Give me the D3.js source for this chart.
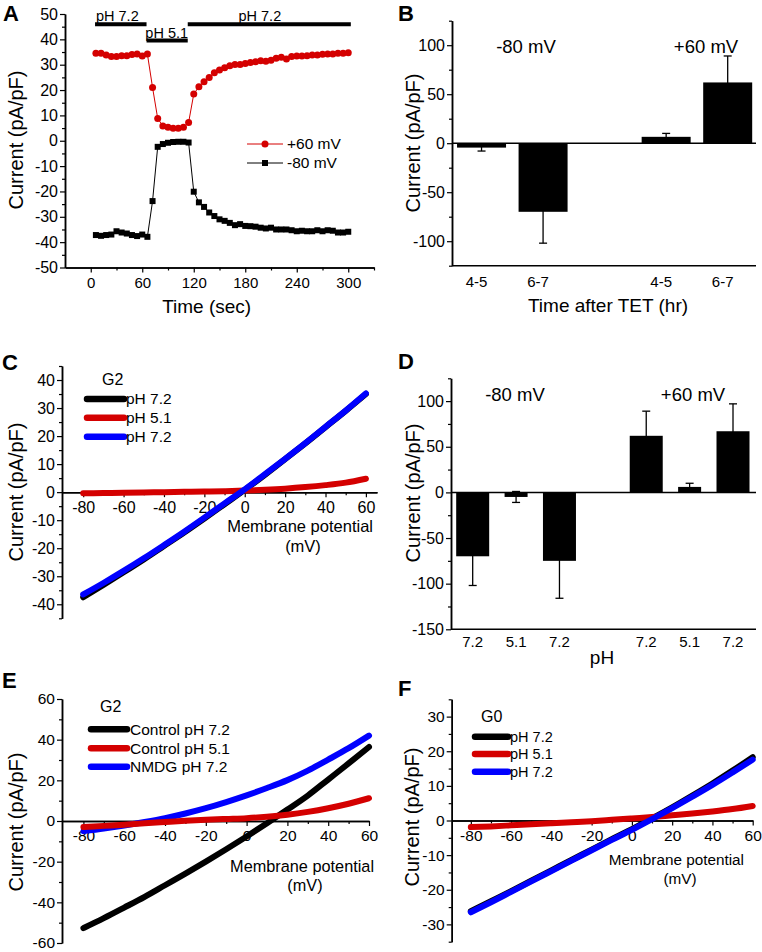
<!DOCTYPE html>
<html><head><meta charset="utf-8">
<script src="https://cdn.jsdelivr.net/npm/d3@7"></script>
<style>
body{margin:0;background:#fff;}
svg text{font-family:"Liberation Sans",Arial,sans-serif;fill:#000;}
</style></head>
<body>
<script>
// ---------------- DATA ----------------
// Panel A: time course
const timeSec = [6,12,18,24,30,36,42,48,54,60,66,72,78,84,90,96,102,108,114,120,126,132,138,144,150,156,162,168,174,180,186,192,198,204,210,216,222,228,234,240,246,252,258,264,270,276,282,288,294,300];
const plus60 = [34.5,34.5,33.8,33.2,33.2,33.5,33.5,34,34.2,33.4,34.2,21,8.8,5.8,5.3,4.9,4.9,5.3,7.2,18.4,21.3,23.3,25,26.8,27.9,28.8,29.6,30.1,30.1,30.5,30.9,31.2,31.6,31.4,31.8,32.5,32.9,32.2,33.2,33.4,33.4,33.5,33.8,33.8,34.1,34.2,34.2,34.5,34.5,34.7];
const minus80 = [-37.2,-37.5,-37.2,-37,-35.7,-36.2,-36.6,-37.2,-37.6,-37,-37.9,-23.8,-2.4,-1.3,-0.8,-0.5,-0.4,-0.4,-0.7,-20.1,-24.3,-26.1,-28.3,-29.7,-31,-31.6,-32.4,-33.3,-32.9,-33.6,-33.7,-33.9,-34.3,-34.6,-34.3,-35,-35,-35,-35.3,-35.7,-35.5,-35.7,-35.7,-35.3,-35.7,-35.3,-35.5,-36.2,-36.2,-35.9];
const phLabels = ["pH 7.2","pH 5.1","pH 7.2"];
const phStart = [5,65,113];
const phEnd = [65,113,303];
const phLevel = [46,39.5,46];
const phLabelAt = [31,88.5,197];
const aTicksX = [0,60,120,180,240,300];
const aTicksY = [-50,-40,-30,-20,-10,0,10,20,30,40,50];

// Panel B: bars
const bCats = ["4-5","6-7","4-5","6-7"];
const bPos = [1,2,4,5];
const bVals = [-4.5,-70,6.5,62];
const bErr = [3.5,32,3.5,27];
const bTicksY = [-100,-50,0,50,100];

// Panel C: I-V G2
const voltage = [-80,-70,-60,-50,-40,-30,-20,-10,0,10,20,30,40,50,60];
const cPh72a = [-37.5,-33.1,-28.6,-24,-19.2,-14.4,-9.4,-4.3,0.8,6.2,11.8,17.4,23.2,29,35];
const cPh51 = [-0.4,-0.3,-0.2,-0.1,0,0.1,0.2,0.35,0.55,0.85,1.25,1.8,2.5,3.4,4.8];
const cPh72b = [-36.5,-32.4,-28.1,-23.6,-18.9,-14.1,-9.1,-4,1,6.4,11.9,17.5,23.3,29.1,35.2];
const cTicksY = [-40,-30,-20,-10,0,10,20,30,40];

// Panel D: bars
const dCats = ["7.2","5.1","7.2","7.2","5.1","7.2"];
const dPos = [1,2,3,5,6,7];
const dVals = [-70,-5,-75,62,6,67];
const dErr = [32,6,41,27,4,30];
const dTicksY = [-150,-100,-50,0,50,100];

// Panel E: I-V G2 NMDG
const eCtrl72 = [-52.7,-47.8,-42.6,-37.3,-31.6,-25.9,-20,-13.9,-7.6,-1.1,5.6,12.5,20.4,28.3,36.4];
const eCtrl51 = [-3,-2.4,-1.8,-1.1,-0.5,0.1,0.6,1,1.4,2.1,3.1,4.5,6.3,8.5,11.2];
const eNmdg72 = [-5,-3.7,-2.2,-0.5,1.4,3.7,6.3,9.3,12.6,16.2,20.1,24.8,30.2,35.8,42];
const eTicksY = [-60,-40,-20,0,20,40,60];

// Panel F: I-V G0
const fPh72a = [-26.2,-23.3,-20.4,-17.4,-14.4,-11.4,-8.4,-5.4,-2.5,0.6,3.8,7.2,10.7,14.4,18.3];
const fPh51 = [-1.9,-1.7,-1.4,-1.1,-0.8,-0.5,-0.2,0.2,0.6,1.0,1.5,2.0,2.6,3.3,4.2];
const fPh72b = [-26.5,-23.6,-20.6,-17.6,-14.6,-11.6,-8.6,-5.6,-2.7,0.4,3.6,6.9,10.3,13.9,17.6];
const fTicksY = [-30,-20,-10,0,10,20,30];
const ivTicksX = [-80,-60,-40,-20,0,20,40,60];
const ivMinorX = [-70,-50,-30,-10,10,30,50];

// ---------------- DRAW ----------------
const RED = "#d40000", BLUE = "#0000ff", BLACK = "#000";
const fmt = d => String(d);
const svg = d3.select("body").append("svg").attr("width",762).attr("height",952);

function styleAxis(g, fs){
  g.select(".domain").attr("stroke","#000").attr("stroke-width",1.5);
  g.selectAll(".tick line").attr("stroke","#000").attr("stroke-width",1.2);
  g.selectAll(".tick text").attr("font-size",fs).attr("font-family","Liberation Sans, Arial, sans-serif");
}
function yAxis(x0, y, major, minorStep, fs){
  const d = y.domain();
  const minors = [];
  for(let v=Math.ceil(d[0]/minorStep)*minorStep; v<=d[1]+1e-9; v+=minorStep){ if(!major.some(m=>Math.abs(m-v)<1e-9)) minors.push(v); }
  const gm = svg.append("g").attr("transform",`translate(${x0},0)`)
    .call(d3.axisLeft(y).tickValues(minors).tickSize(3).tickFormat("").tickSizeOuter(0));
  styleAxis(gm, fs);
  const g = svg.append("g").attr("transform",`translate(${x0},0)`)
    .call(d3.axisLeft(y).tickValues(major).tickSize(5).tickPadding(2).tickFormat(fmt).tickSizeOuter(0));
  styleAxis(g, fs);
}
function xAxisAt(y0, x, major, minors, fs, pad){
  const gm = svg.append("g").attr("transform",`translate(0,${y0})`)
    .call(d3.axisBottom(x).tickValues(minors).tickSize(3).tickFormat("").tickSizeOuter(0));
  styleAxis(gm, fs);
  const g = svg.append("g").attr("transform",`translate(0,${y0})`)
    .call(d3.axisBottom(x).tickValues(major).tickSize(5).tickPadding(pad).tickFormat(fmt).tickSizeOuter(0));
  styleAxis(g, fs);
}
function text(x,y,s,fs,anchor,weight){
  return svg.append("text").attr("x",x).attr("y",y).attr("dy","0.35em").attr("font-size",fs)
    .attr("text-anchor",anchor||"start").attr("font-weight",weight||"normal").text(s);
}
function vtitle(cx,cy,s,fs){
  svg.append("text").attr("transform",`translate(${cx},${cy}) rotate(-90)`).attr("dy","0.35em")
    .attr("text-anchor","middle").attr("font-size",fs).text(s);
}
function panelLetter(x,y,s){
  svg.append("text").attr("x",x).attr("y",y).attr("font-size",22).attr("font-weight","bold").text(s);
}

// ===== Panel A =====
{
  const x = d3.scaleLinear().domain([-30,330]).range([65,374]);
  const y = d3.scaleLinear().domain([-50,50]).range([267.5,14]);
  yAxis(65, y, aTicksY, 5, 16);
  xAxisAt(267.5, x, aTicksX, [30,90,150,210,270,330], 15, 5);
  phLabels.forEach((lab,i)=>{
    svg.append("line").attr("x1",x(phStart[i])).attr("x2",x(phEnd[i]))
      .attr("y1",y(phLevel[i])).attr("y2",y(phLevel[i])).attr("stroke","#000").attr("stroke-width",4);
    text(x(phLabelAt[i]), y(phLevel[i])-8, lab, 14.5, "middle");
  });
  const line = d3.line().x((d,i)=>x(timeSec[i])).y(d=>y(d));
  svg.append("path").datum(plus60).attr("d",line).attr("fill","none").attr("stroke",RED).attr("stroke-width",1);
  svg.append("path").datum(minus80).attr("d",line).attr("fill","none").attr("stroke",BLACK).attr("stroke-width",1);
  svg.selectAll(null).data(plus60).enter().append("circle")
    .attr("cx",(d,i)=>x(timeSec[i])).attr("cy",d=>y(d)).attr("r",3.5).attr("fill",RED);
  svg.selectAll(null).data(minus80).enter().append("rect")
    .attr("x",(d,i)=>x(timeSec[i])-3).attr("y",d=>y(d)-3).attr("width",6).attr("height",6).attr("fill",BLACK);
  svg.append("line").attr("x1",247).attr("x2",283).attr("y1",144).attr("y2",144).attr("stroke",RED).attr("stroke-width",1);
  svg.append("circle").attr("cx",265).attr("cy",144).attr("r",3.5).attr("fill",RED);
  text(287,144,"+60 mV",15.5);
  svg.append("line").attr("x1",247).attr("x2",283).attr("y1",163).attr("y2",163).attr("stroke",BLACK).attr("stroke-width",1);
  svg.append("rect").attr("x",262).attr("y",160).attr("width",6).attr("height",6).attr("fill",BLACK);
  text(287,163,"-80 mV",15.5);
  vtitle(16,140,"Current (pA/pF)",20);
  text(206.7,306.5,"Time (sec)",19,"middle");
  panelLetter(3,21,"A");
}

// ===== bar panel helper =====
function barPanel(opts){
  const {x0,x1,yTop,yBot,dom,pos,xdom,vals,err,cats,ticks,minor,bw,fsT,lblY,lblDx,lab1,lab2,labY,title,titleY,titleX,vt,letter} = opts;
  const x = d3.scaleLinear().domain(xdom).range([x0,x1]);
  const y = d3.scaleLinear().domain(dom).range([yBot,yTop]);
  const w = i => Array.isArray(bw) ? bw[i] : bw;
  yAxis(x0, y, ticks, minor, fsT);
  svg.append("line").attr("x1",x0).attr("x2",x1).attr("y1",yBot).attr("y2",yBot).attr("stroke","#000").attr("stroke-width",1.5);
  vals.forEach((v,i)=>{
    const cx = x(pos[i]);
    svg.append("line").attr("x1",cx).attr("x2",cx).attr("y1",y(v-err[i])).attr("y2",y(v+err[i])).attr("stroke","#000").attr("stroke-width",1.3);
    [v-err[i], v+err[i]].forEach(e=>{
      svg.append("line").attr("x1",cx-4).attr("x2",cx+4).attr("y1",y(e)).attr("y2",y(e)).attr("stroke","#000").attr("stroke-width",1.3);
    });
  });
  svg.selectAll(null).data(vals).enter().append("rect")
    .attr("x",(d,i)=>Math.max(x0,x(pos[i])-w(i)/2)).attr("width",(d,i)=>x(pos[i])+w(i)/2-Math.max(x0,x(pos[i])-w(i)/2))
    .attr("y",d=>y(Math.max(0,d))).attr("height",d=>Math.abs(y(d)-y(0))).attr("fill","#000");
  svg.append("line").attr("x1",x0).attr("x2",x1).attr("y1",y(0)).attr("y2",y(0)).attr("stroke","#000").attr("stroke-width",1.5);
  cats.forEach((c,i)=> text(x(pos[i])+lblDx, lblY, c, 15, "middle"));
  text(lab1, labY, "-80 mV", 18.5, "middle");
  text(lab2, labY, "+60 mV", 18.5, "middle");
  text(titleX, titleY, title, 19, "middle");
  vtitle(vt[0], vt[1], "Current (pA/pF)", 20);
  panelLetter(letter[1], letter[2], letter[0]);
}

barPanel({x0:452,x1:756,yTop:20.7,yBot:265.7,dom:[-125,125],pos:bPos,xdom:[0.52,5.46],vals:bVals,err:bErr,cats:bCats,
  ticks:bTicksY,minor:25,bw:49,fsT:16,lblY:281.5,lblDx:-5,lab1:526,lab2:706,labY:47,title:"Time after TET (hr)",titleY:305,titleX:608,
  vt:[413,143],letter:["B",398,21]});

barPanel({x0:451,x1:756,yTop:378.3,yBot:629.3,dom:[-150,125],pos:dPos,xdom:[0.5,7.53],vals:dVals,err:dErr,cats:dCats,
  ticks:dTicksY,minor:25,bw:[33,23,33,33,23,33],fsT:16,lblY:641.5,lblDx:0,lab1:515,lab2:693,labY:395,title:"pH",titleY:657,titleX:602,
  vt:[413,493],letter:["D",398,369]});

// ===== IV panel helper =====
function ivPanel(opts){
  const {x0,x1,xdom,yTop,yBot,ydom,ticks,minor,series,colors,order,legend,legX,legY,leg1,legText,group,groupXY,mp,mv,mpFs,vt,letter,fsT} = opts;
  const x = d3.scaleLinear().domain(xdom).range([x0,x1]);
  const y = d3.scaleLinear().domain(ydom).range([yBot,yTop]);
  yAxis(x0, y, ticks, minor, fsT);
  xAxisAt(y(0), x, ivTicksX, ivMinorX, fsT, 4);
  const line = d3.line().x((d,i)=>x(voltage[i])).y(d=>y(d)).curve(d3.curveMonotoneX);
  order.forEach(k=>{
    svg.append("path").datum(series[k]).attr("d",line).attr("fill","none").attr("stroke",colors[k])
      .attr("stroke-width",6).attr("stroke-linecap","round").attr("stroke-linejoin","round");
  });
  text(groupXY[0], groupXY[1], group, 16);
  legend.forEach((lab,i)=>{
    svg.append("line").attr("x1",legX[0]).attr("x2",legX[1]).attr("y1",legY[i]).attr("y2",legY[i])
      .attr("stroke",colors[i]).attr("stroke-width",6.5).attr("stroke-linecap","round");
    text(legText, legY[i], lab, leg1);
  });
  text(mp[0], mp[1], "Membrane potential", mpFs, "end");
  text(mv[0], mv[1], "(mV)", mpFs, "middle");
  vtitle(vt[0], vt[1], "Current (pA/pF)", 20);
  panelLetter(letter[1], letter[2], letter[0]);
}

ivPanel({x0:62,x1:377,xdom:[-90.5,65.5],yTop:366,yBot:618.3,ydom:[-45,45],ticks:cTicksY,minor:5,
  series:[cPh72a,cPh51,cPh72b],colors:[BLACK,RED,BLUE],order:[0,1,2],legend:["pH 7.2","pH 5.1","pH 7.2"],
  legX:[87,124],legY:[399,417.7,436.7],leg1:15.5,legText:126,group:"G2",groupXY:[102,379],
  mp:[373,526.7],mv:[303,546.7],mpFs:16.5,vt:[16,492],letter:["C",2,370],fsT:16});

ivPanel({x0:62,x1:369,xdom:[-90.5,60],yTop:699,yBot:943,ydom:[-60,60],ticks:eTicksY,minor:10,
  series:[eCtrl72,eCtrl51,eNmdg72],colors:[BLACK,RED,BLUE],order:[0,2,1],legend:["Control pH 7.2","Control pH 5.1","NMDG pH 7.2"],
  legX:[91,127],legY:[729.3,748.3,766.7],leg1:15.5,legText:130,group:"G2",groupXY:[100,706.7],
  mp:[374,866.7],mv:[305,885],mpFs:16.3,vt:[16,822],letter:["E",2,688],fsT:15.5});

ivPanel({x0:451.7,x1:752.7,xdom:[-89.5,60],yTop:699.3,yBot:941.7,ydom:[-35,35],ticks:fTicksY,minor:5,
  series:[fPh72a,fPh51,fPh72b],colors:[BLACK,RED,BLUE],order:[0,1,2],legend:["pH 7.2","pH 5.1","pH 7.2"],
  legX:[475,508],legY:[736.7,754,771.7],leg1:14.5,legText:510,group:"G0",groupXY:[481,716.7],
  mp:[744,860],mv:[680,879],mpFs:15.3,vt:[412,817],letter:["F",398,696],fsT:15.5});
</script>
</body></html>
